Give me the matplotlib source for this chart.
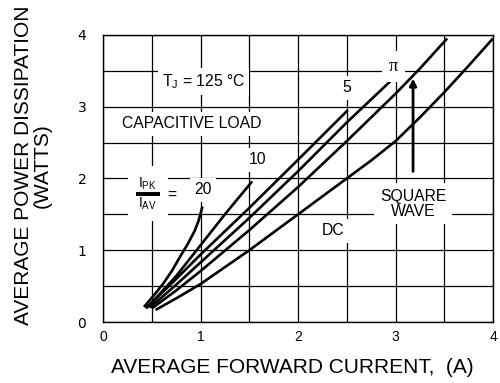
import matplotlib.pyplot as plt

plt.rcParams['font.family'] = ['Liberation Sans', 'DejaVu Sans']
plt.rcParams['mathtext.fontset'] = 'custom'
plt.rcParams['mathtext.rm'] = 'Liberation Sans'
plt.rcParams['mathtext.it'] = 'Liberation Sans:italic'

# curves (I_PK / I_AV ratio)
x_20 = [0.42, 0.52, 0.62, 0.71, 0.79, 0.87, 0.94, 0.98, 1.02]
y_20 = [0.21, 0.37, 0.54, 0.72, 0.91, 1.09, 1.27, 1.41, 1.61]
x_10 = [0.45, 0.75, 1.0, 1.25, 1.53]
y_10 = [0.20, 0.64, 1.07, 1.50, 1.96]
x_5 = [0.44, 0.75, 1.0, 1.5, 2.0, 2.51]
y_5 = [0.19, 0.60, 0.94, 1.59, 2.26, 2.95]
x_pi = [0.48, 0.75, 1.0, 1.5, 2.0, 2.5, 2.96]
y_pi = [0.20, 0.52, 0.83, 1.45, 2.10, 2.78, 3.37]
x_sq = [0.50, 0.75, 1.0, 1.5, 2.0, 2.5, 2.75, 3.0, 3.25, 3.53]
y_sq = [0.19, 0.44, 0.71, 1.28, 1.88, 2.52, 2.85, 3.18, 3.53, 3.95]
x_dc = [0.54, 0.75, 1.0, 1.5, 2.0, 2.5, 2.75, 3.0, 3.25, 3.5, 3.75, 4.0]
y_dc = [0.17, 0.33, 0.53, 1.00, 1.50, 2.00, 2.25, 2.52, 2.85, 3.20, 3.57, 3.95]

tick_pos = [i * 0.5 for i in range(9)]
tick_labels = ['0', '', '1', '', '2', '', '3', '', '4']

fig = plt.figure(figsize=(5, 3.83), dpi=100)
ax = fig.add_axes([0.206, 0.159, 0.78, 0.75])

for xs, ys in [(x_20, y_20), (x_10, y_10), (x_5, y_5), (x_pi, y_pi), (x_sq, y_sq), (x_dc, y_dc)]:
    ax.plot(xs, ys, color='black', lw=1.9, solid_capstyle='butt', solid_joinstyle='round', zorder=3)

ax.set_xlim(0, 4)
ax.set_ylim(0, 4)
ax.set_xticks(tick_pos)
ax.set_yticks(tick_pos)
ax.set_xticklabels(tick_labels, fontsize=10)
ax.set_yticklabels(tick_labels, fontsize=10, family='DejaVu Sans')
ax.tick_params(axis='both', length=0)
ax.tick_params(axis='x', pad=6)
ax.tick_params(axis='y', pad=12)
ax.grid(True, color='black', lw=0.9)
for s in ax.spines.values():
    s.set_linewidth(1.0)

box = dict(facecolor='white', edgecolor='none', pad=3)
fs = 11.3
ax.text(1.03, 3.35, r'T$_\mathrm{J}$ = 125 °C', fontsize=fs, ha='center', va='center', bbox=box, zorder=4)
ax.text(0.91, 2.76, 'CAPACITIVE LOAD', fontsize=fs, ha='center', va='center', bbox=box, zorder=4)
ax.text(2.5, 3.26, '5', fontsize=fs, ha='center', va='center', bbox=box, zorder=4)
ax.text(2.98, 3.56, 'π', fontsize=fs + 2, family='Liberation Serif', ha='center', va='center',
        bbox=dict(facecolor='white', edgecolor='none', pad=5), zorder=4)
ax.text(1.59, 2.26, '10', fontsize=fs, ha='center', va='center', bbox=box, zorder=4)
ax.text(1.03, 1.84, '20', fontsize=fs, ha='center', va='center', bbox=box, zorder=4)
ax.text(2.36, 1.27, 'DC', fontsize=fs, ha='center', va='center', bbox=box, zorder=4)
ax.text(3.18, 1.65, 'SQUARE\nWAVE', fontsize=fs, ha='center', va='center',
        linespacing=1.0, bbox=dict(facecolor='white', edgecolor='none', pad=4), zorder=4)

# I_PK / I_AV fraction
ax.text(0.46, 1.79, ' ' * 8 + '\n\n', fontsize=fs, ha='center', va='center',
        bbox=dict(facecolor='white', edgecolor='none', pad=2), zorder=4)
ax.text(0.46, 1.92, r'I$_\mathrm{PK}$', fontsize=10, ha='center', va='center', zorder=5)
ax.text(0.46, 1.65, r'I$_\mathrm{AV}$', fontsize=10, ha='center', va='center', zorder=5)
ax.plot([0.34, 0.58], [1.78, 1.78], color='black', lw=2.8, solid_capstyle='butt', zorder=5)
ax.text(0.71, 1.77, '=', fontsize=fs, ha='center', va='center', bbox=box, zorder=4)

ax.annotate('', xy=(3.18, 3.43), xytext=(3.18, 2.06),
            arrowprops=dict(arrowstyle='-|>', color='black', lw=2, mutation_scale=10), zorder=5)

fig.text(0.584, 0.04, 'AVERAGE FORWARD CURRENT,  (A)', fontsize=15, ha='center', va='center')
fig.text(0.066, 0.568, 'AVERAGE POWER DISSIPATION\n(WATTS)', fontsize=15, ha='center', va='center',
         rotation=90, multialignment='center', linespacing=1.0)

fig.savefig('out.png', dpi=100)
